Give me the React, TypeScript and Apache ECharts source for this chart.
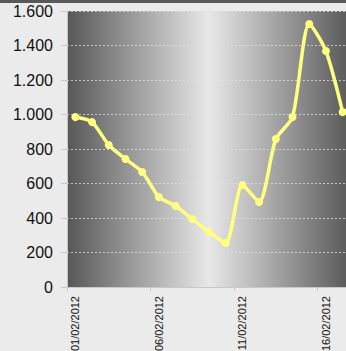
import React, { useEffect, useRef } from "react";
import * as echarts from "echarts";

const categories = [
  "01/02/2012", "02/02/2012", "03/02/2012", "04/02/2012", "05/02/2012",
  "06/02/2012", "07/02/2012", "08/02/2012", "09/02/2012", "10/02/2012",
  "11/02/2012", "12/02/2012", "13/02/2012", "14/02/2012", "15/02/2012",
  "16/02/2012", "17/02/2012",
];
const values = [985, 956, 823, 742, 667, 522, 470, 394, 319, 255, 591, 493, 858, 985, 1525, 1368, 1014];
const yTicks = [0, 200, 400, 600, 800, 1000, 1200, 1400, 1600];

const fmt = (v: number) => String(v).replace(/\B(?=(\d{3})+(?!\d))/g, ".");

export default function App() {
  const ref = useRef<HTMLDivElement>(null);
  useEffect(() => {
    const chart = echarts.init(ref.current!, null, { renderer: "svg" });
    chart.setOption({
      animation: false,
      backgroundColor: "#ebebeb",
      graphic: [
        { type: "rect", left: 0, top: 0, shape: { width: 400, height: 3 }, style: { fill: "#595959" } },
      ],
      grid: {
        left: 67,
        top: 11,
        bottom: 64,
        right: 1,
        outerBoundsMode: "none",
        containLabel: false,
        show: true,
        borderWidth: 0,
        backgroundColor: new echarts.graphic.LinearGradient(0, 0, 1, 0, [
          { offset: 0, color: "#575757" },
          { offset: 0.5, color: "#e8e8e8" },
          { offset: 1, color: "#575757" },
        ]),
      },
      xAxis: {
        type: "category",
        data: categories,
        boundaryGap: true,
        axisLine: { show: true, lineStyle: { color: "#c8c8c8", width: 1 } },
        axisTick: { show: true, interval: 4, length: 4, lineStyle: { color: "#c8c8c8" } },
        axisLabel: {
          interval: 4,
          rotate: 90,
          margin: 9,
          color: "#111",
          fontSize: 11,
          fontFamily: "'Liberation Sans', Arial, sans-serif",
        },
        splitLine: { show: false },
      },
      yAxis: {
        type: "value",
        min: yTicks[0],
        max: yTicks[yTicks.length - 1],
        interval: 200,
        axisLine: { show: true, lineStyle: { color: "#c8c8c8", width: 1 } },
        axisTick: { show: true, length: 6, lineStyle: { color: "#c8c8c8" } },
        axisLabel: {
          margin: 14,
          color: "#111",
          fontSize: 16,
          fontFamily: "'Liberation Sans', Arial, sans-serif",
          formatter: (v: number) => fmt(v),
        },
        splitLine: { show: true, lineStyle: { color: "rgba(225,225,225,0.75)", type: [2, 2], width: 1 } },
      },
      series: [
        {
          type: "line",
          data: values,
          smooth: 0.25,
          symbol: "circle",
          symbolSize: 8,
          lineStyle: { color: "#ffff80", width: 3.5 },
          itemStyle: { color: "#ffff80" },
        },
      ],
    });
    return () => chart.dispose();
  }, []);
  return (
    <div style={{ position: "fixed", left: 0, top: 0, width: 346, height: 351, overflow: "hidden" }}>
      <div ref={ref} style={{ width: 352, height: 351 }} />
    </div>
  );
}
